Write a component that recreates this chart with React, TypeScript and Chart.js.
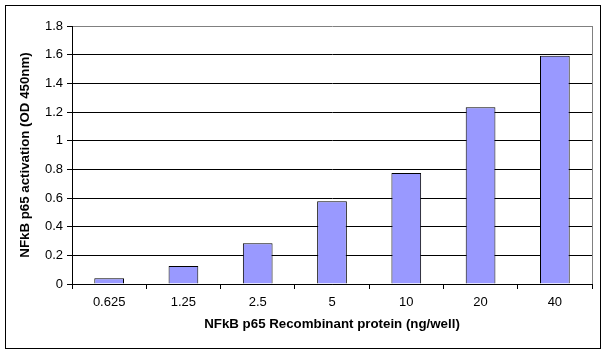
import { useEffect, useRef } from "react";
import { Chart, registerables } from "chart.js";

Chart.register(...registerables);

const categories = ["0.625", "1.25", "2.5", "5", "10", "20", "40"];
const activation = [0.04, 0.125, 0.284, 0.577, 0.775, 1.233, 1.593];
const yMin = 0;
const yMax = 1.8;
const yStep = 0.2;
const xTitle = "NFkB p65 Recombinant protein (ng/well)";
const yTitle = "NFkB p65 activation (OD 450nm)";

const FONT = "'Liberation Sans', Arial, sans-serif";

const framePlugin = {
  id: "frame",
  afterDraw(chart: any) {
    const { ctx, chartArea } = chart;
    ctx.save();
    ctx.strokeStyle = "#808080";
    ctx.lineWidth = 1;
    ctx.beginPath();
    ctx.moveTo(Math.round(chartArea.right) + 0.5, Math.round(chartArea.top));
    ctx.lineTo(Math.round(chartArea.right) + 0.5, Math.round(chartArea.bottom));
    ctx.stroke();
    ctx.strokeStyle = "#000";
    ctx.lineWidth = 1;
    ctx.strokeRect(5.5, 5.5, 595, 343);
    ctx.restore();
  },
};

export default function App() {
  const ref = useRef<HTMLCanvasElement>(null);
  useEffect(() => {
    document.body.style.margin = "0";
    const chart = new Chart(ref.current!, {
      type: "bar",
      data: {
        labels: categories,
        datasets: [
          {
            data: activation,
            backgroundColor: "#9999FF",
            borderColor: "#000",
            borderWidth: 1,
            categoryPercentage: 1,
            barPercentage: 0.4,
          },
        ],
      },
      options: {
        responsive: false,
        animation: false,
        layout: { padding: { top: 26, right: 15, left: 0, bottom: 0 } },
        plugins: { legend: { display: false }, tooltip: { enabled: false } },
        scales: {
          x: {
            afterFit(scale: any) {
              scale.height = 72;
            },
            border: { color: "#000", width: 1 },
            grid: {
              drawOnChartArea: false,
              drawTicks: true,
              tickLength: 5,
              color: "#000",
              offset: true,
            },
            ticks: {
              color: "#000",
              font: { family: FONT, size: 13 },
              padding: 6,
              maxRotation: 0,
            },
            title: {
              display: true,
              text: xTitle,
              color: "#000",
              font: { family: FONT, size: 13.3, weight: "bold" },
              padding: { top: 0, bottom: 24 },
            },
          },
          y: {
            min: yMin,
            max: yMax,
            afterFit(scale: any) {
              scale.width = 72;
            },
            border: { color: "#000", width: 1 },
            grid: {
              color: (c: any) => (c.tick && Math.abs(c.tick.value - yMax) < 1e-6 ? "#808080" : "#000"),
              tickColor: "#000",
              tickLength: 5,
            },
            ticks: {
              stepSize: yStep,
              color: "#000",
              font: { family: FONT, size: 13 },
              padding: 4,
              callback: (v: any) => String(Number(Number(v).toFixed(1))),
            },
            title: {
              display: true,
              text: yTitle,
              color: "#000",
              font: { family: FONT, size: 13.3, weight: "bold" },
              padding: { top: 17, bottom: 0 },
            },
          },
        },
      },
      plugins: [framePlugin],
    } as any);
    return () => chart.destroy();
  }, []);
  return (
    <div style={{ width: 607, height: 356, position: "relative", background: "#fff" }}>
      <canvas ref={ref} width={607} height={356} style={{ display: "block" }} />
    </div>
  );
}
